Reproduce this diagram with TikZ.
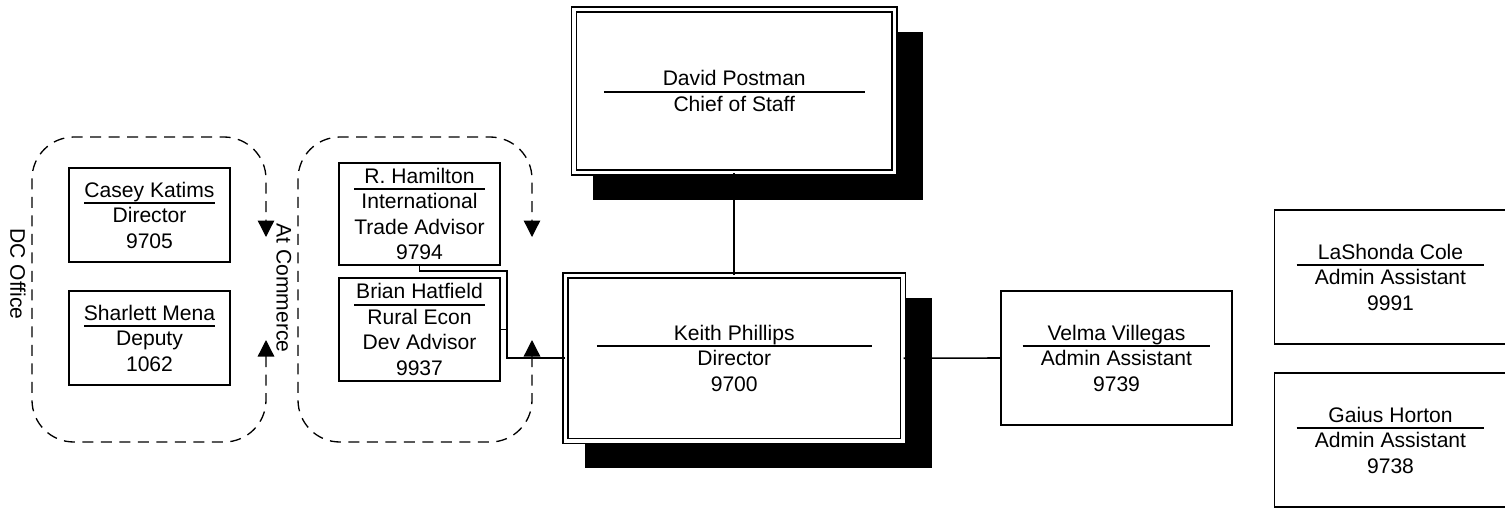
\documentclass[tikz,border=0pt]{standalone}
\usepackage{fontspec}
\setmainfont{Liberation Sans}
\usetikzlibrary{arrows.meta,shadows}

\newcommand{\nameline}[2]{\setbox0=\hbox{#2}\makebox[\wd0]{\smash{\makebox[0pt]{\rule[-3.9pt]{#1}{1pt}}}}\llap{\box0}}

\tikzset{
  unit/.style={draw, line width=1pt, fill=white, align=center, inner sep=0pt, font=\fontsize{12pt}{14.5pt}\selectfont},
  small/.style={unit, minimum width=3.22cm},
  assist/.style={unit, minimum width=4.64cm, minimum height=2.68cm},
  head/.style={unit, line width=0.85pt, double, double distance=1.9pt, drop shadow={shadow scale=1.03, shadow xshift=0.47cm, shadow yshift=-0.48cm, opacity=1, fill=black}},
  grp/.style={line width=0.75pt, dash pattern=on 0.22cm off 0.15cm, rounded corners=0.84cm},
  conn/.style={line width=0.9pt},
  >={Triangle[length=0.33cm, width=0.33cm]}
}

\begin{document}
\begin{tikzpicture}[x=0.02cm, y=-0.02cm]
    \useasboundingbox (0,0) rectangle (1505,511);
    \draw[grp, <->] (266,340) -- (266,442) -- (32,442) -- (32,137) -- (266,137) -- (266,237);
    \draw[grp, <->] (532,340) -- (532,442) -- (298,442) -- (298,137) -- (532,137) -- (532,237);
    \node[unit, draw=none, fill=none, rotate=-90] (dclbl) at (18,274) {DC Office};
    \node[unit, draw=none, fill=none, rotate=-90] (comlbl) at (284,288) {At Commerce};

    \node[small, minimum height=1.88cm] (casey) at (149.5,215) {\nameline{2.62cm}{Casey Katims}\\Director\\9705};
    \node[small, minimum height=1.88cm] (mena) at (149.5,338) {\nameline{2.62cm}{Sharlett Mena}\\Deputy\\1062};
    \node[small, minimum height=2.04cm] (ham) at (419.5,214) {\nameline{2.62cm}{R. Hamilton}\\International\\Trade Advisor\\9794};
    \node[small, minimum height=2.06cm] (brian) at (419.5,329.5) {\nameline{2.62cm}{Brian Hatfield}\\Rural Econ\\Dev Advisor\\9937};

    \node[head, minimum width=6.41cm, minimum height=3.26cm] (david) at (734.25,91) {\nameline{5.22cm}{David Postman}\\Chief of Staff};
    \node[head, minimum width=6.75cm, minimum height=3.31cm] (keith) at (734.25,358.25) {\nameline{5.5cm}{Keith Phillips}\\Director\\9700};

    \node[assist, minimum width=4.62cm] (velma) at (1116.5,358) {\nameline{3.76cm}{Velma Villegas}\\Admin Assistant\\9739};
    \node[assist] (cole) at (1390.5,277) {\nameline{3.76cm}{LaShonda Cole}\\Admin Assistant\\9991};
    \node[assist] (horton) at (1390.5,440) {\nameline{3.76cm}{Gaius Horton}\\Admin Assistant\\9738};

    \coordinate (jn) at ([xshift=0.12cm]brian.east);
    \draw[conn] (david.south) -- (keith.north);
    \draw[conn] (keith.east) -- (velma.west);
    \draw[conn] (ham.south) -- ++(0,5) -| (jn |- keith.west) -- (keith.west);
    \draw[conn] (brian.east) -- (jn);
\end{tikzpicture}
\end{document}
